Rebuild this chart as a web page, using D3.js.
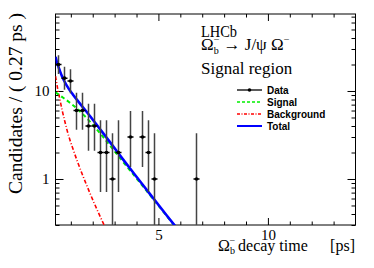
<!DOCTYPE html>
<html lang="en">
    <head>
        <meta charset="utf-8">
        <title>Omega_b decay time</title>
        <script src="https://d3js.org/d3.v7.min.js"></script>
        <style type="text/css">
            body{
                margin: 0;
                background: #fff;
            }
            svg{
                display: block;
            }
            text{
                font-family: "Liberation Serif", "Times New Roman", serif;
                fill: #000;
                white-space: pre;
            }
            .legend text{
                font-family: "Liberation Sans", Arial, sans-serif;
                font-weight: bold;
                font-size: 10px;
            }
        </style>
    </head>
    <body>
        <svg></svg>
        <script type="text/javascript">

        const w = 374;
        const h = 268;

        //DATA: bin centres [ps], counts and error bar ends
        const binWidth = 0.274;
        const binCentres = [0.437, 0.711, 0.985, 1.259, 1.533, 1.807, 2.081, 2.355, 2.629, 2.903, 3.177, 3.725, 4.273, 4.547, 4.821, 6.739];
        const counts     = [20, 14, 13, 6, 6, 4, 4, 2, 2, 1, 2, 3, 3, 2, 1, 1];
        const errLow     = [15.57, 10.31, 9.45, 3.62, 3.62, 2.09, 2.09, 0.71, 0.71, 0.17, 0.71, 1.37, 1.37, 0.71, 0.17, 0.17];
        const errHigh    = [25.54, 18.83, 17.69, 9.58, 9.58, 7.16, 7.16, 4.64, 4.64, 3.30, 4.64, 5.92, 5.92, 4.64, 3.30, 3.30];

        //FIT CURVES
        const curveT     = [0.3, 0.4, 0.5, 0.6, 0.7, 0.9, 1.1, 1.3, 1.5, 1.7, 1.9, 2.1, 2.3, 2.5, 2.7, 2.9, 3.4, 3.9, 4.4, 4.9, 5.4, 5.9];
        const signal     = [9.66, 9.28, 8.91, 8.56, 8.22, 7.55, 6.89, 6.24, 5.60, 5.00, 4.42, 3.88, 3.39, 2.95, 2.56, 2.22, 1.55, 1.09, 0.764, 0.535, 0.374, 0.262];
        const background = [14.8, 10.6, 8.04, 6.10, 4.79, 3.09, 2.19, 1.58, 1.17, 0.877, 0.665, 0.509, 0.394, 0.307, 0.240, 0.189];
        const total      = [24.5, 19.9, 16.95, 14.66, 13.0, 10.64, 9.08, 7.82, 6.77, 5.88, 5.09, 4.39, 3.78, 3.26, 2.80, 2.41, 1.65, 1.14, 0.79, 0.547, 0.38, 0.265];

        //TICKS
        const xMajor = [5, 10];
        const xMinor = [1, 2, 3, 4, 6, 7, 8, 9, 11, 12, 13];
        const yMajor = [1, 10];
        const yMinor = [0.3, 0.4, 0.5, 0.6, 0.7, 0.8, 0.9, 2, 3, 4, 5, 6, 7, 8, 9, 20, 30, 40, 50, 60, 70];

        const legendItems = ["Data", "Signal", "Background", "Total"];

        //FRAME
        const fLeft = 55.5, fRight = 355.5, fTop = 14, fBottom = 225;

        const x = d3.scaleLinear().domain([0.3, 14]).range([fLeft, fRight]);
        const y = d3.scaleLog().domain([0.3, 75]).range([fBottom, fTop]);

        const svg = d3.select("svg").attr("width", w).attr("height", h);

        svg.append("clipPath").attr("id", "frameClip")
           .append("rect")
           .attr("x", fLeft).attr("y", fTop)
           .attr("width", fRight - fLeft).attr("height", fBottom - fTop);

        //AXES (ticks on all four sides, pointing inwards)
        function drawAxis(axis, tx, ty, labels){
            const g = svg.append("g").attr("transform", `translate(${tx},${ty})`).call(axis);
            g.select(".domain").remove();
            g.selectAll("line").attr("stroke", "#000");
            if(!labels) g.selectAll("text").remove();
            return g;
        }

        const xb = drawAxis(d3.axisBottom(x).tickValues(xMajor).tickSize(-7).tickPadding(4).tickFormat(d3.format("d")), 0, fBottom, true);
        xb.selectAll("text").attr("font-size", 15).attr("font-family", "Liberation Serif");
        drawAxis(d3.axisBottom(x).tickValues(xMinor).tickSize(-3.5), 0, fBottom, false);
        drawAxis(d3.axisBottom(x).tickValues(xMajor).tickSize(7), 0, fTop, false);
        drawAxis(d3.axisBottom(x).tickValues(xMinor).tickSize(3.5), 0, fTop, false);

        const yl = drawAxis(d3.axisLeft(y).tickValues(yMajor).tickSize(-8).tickPadding(6).tickFormat(d3.format("d")), fLeft, 0, true);
        yl.selectAll("text").attr("font-size", 15).attr("font-family", "Liberation Serif");
        drawAxis(d3.axisLeft(y).tickValues(yMinor).tickSize(-4), fLeft, 0, false);
        drawAxis(d3.axisLeft(y).tickValues(yMajor).tickSize(8), fRight, 0, false);
        drawAxis(d3.axisLeft(y).tickValues(yMinor).tickSize(4), fRight, 0, false);

        svg.append("rect")
           .attr("x", fLeft).attr("y", fTop)
           .attr("width", fRight - fLeft).attr("height", fBottom - fTop)
           .attr("fill", "none").attr("stroke", "#000").attr("stroke-width", 1);

        //CURVES
        const plot = svg.append("g").attr("clip-path", "url(#frameClip)");
        const line = d3.line().x(d => x(d[0])).y(d => y(d[1])).curve(d3.curveMonotoneX);

        plot.append("path")
            .datum(background.map((v, i) => [curveT[i], v]))
            .attr("d", line).attr("fill", "none")
            .attr("stroke", "#ff0000").attr("stroke-width", 1.6)
            .attr("stroke-dasharray", "4,2,1,2");

        plot.append("path")
            .datum(signal.map((v, i) => [curveT[i], v]))
            .attr("d", line).attr("fill", "none")
            .attr("stroke", "#00ee00").attr("stroke-width", 2)
            .attr("stroke-dasharray", "4,3");

        plot.append("path")
            .datum(total.map((v, i) => [curveT[i], v]))
            .attr("d", line).attr("fill", "none")
            .attr("stroke", "#0000ff").attr("stroke-width", 2.6);

        //DATA POINTS
        const pts = plot.selectAll("g.pt")
            .data(counts.map((c, i) => ({t: binCentres[i], n: c, lo: errLow[i], hi: errHigh[i]})))
            .join("g").attr("class", "pt");

        pts.append("line")
           .attr("x1", d => x(d.t)).attr("x2", d => x(d.t))
           .attr("y1", d => y(Math.max(d.lo, 0.2))).attr("y2", d => y(d.hi))
           .attr("stroke", "#444").attr("stroke-width", 1.5);
        pts.append("line")
           .attr("x1", d => x(d.t - binWidth / 2)).attr("x2", d => x(d.t + binWidth / 2))
           .attr("y1", d => y(d.n)).attr("y2", d => y(d.n))
           .attr("stroke", "#000").attr("stroke-width", 1.5);
        pts.append("circle")
           .attr("cx", d => x(d.t)).attr("cy", d => y(d.n)).attr("r", 1.8)
           .attr("fill", "#000");

        //AXIS TITLES
        svg.append("text")
           .attr("transform", "translate(21.5,13) rotate(-90)")
           .attr("text-anchor", "end")
           .attr("font-size", 19.5)
           .text("Candidates / ( 0.27 ps )");

        const xt = svg.append("text")
           .attr("x", 218).attr("y", 250.5)
           .attr("font-size", 16);
        xt.append("tspan").text("Ω");
        xt.append("tspan").attr("font-size", 10).attr("dy", 3.5).text("b");
        xt.append("tspan").attr("font-size", 10).attr("dx", -5.5).attr("dy", -10.5).text("−");
        xt.append("tspan").attr("dx", 3).attr("dy", 7).text("decay time");
        svg.append("text")
           .attr("x", 355).attr("y", 250.5)
           .attr("text-anchor", "end")
           .attr("font-size", 16)
           .text("[ps]");

        //LHCb LABEL
        svg.append("text").attr("x", 201).attr("y", 36.5).attr("font-size", 16.5)
           .attr("textLength", 36).attr("lengthAdjust", "spacingAndGlyphs").text("LHCb");
        const dec = svg.append("text").attr("x", 201).attr("y", 50).attr("font-size", 17);
        dec.append("tspan").text("Ω");
        dec.append("tspan").attr("font-size", 10).attr("dy", 4).text("b");
        dec.append("tspan").attr("font-size", 10).attr("dx", -5).attr("dy", -11).text("−");
        dec.append("tspan").attr("dy", 7).text(" → J/ψ Ω");
        dec.append("tspan").attr("font-size", 10).attr("dy", -7).text("−");
        svg.append("text").attr("x", 201).attr("y", 73.5).attr("font-size", 17).text("Signal region");

        //LEGEND
        const legend = svg.append("g").attr("class", "legend");
        const rowY = d3.scalePoint().domain(legendItems).range([90, 126]);
        const styles = {
            "Data":       {stroke: "#000",    width: 1.3, dash: null},
            "Signal":     {stroke: "#00ee00", width: 1.6, dash: "3,2"},
            "Background": {stroke: "#ff0000", width: 1.3, dash: "3,1.5,1,1.5"},
            "Total":      {stroke: "#0000ff", width: 2,   dash: null}
        };
        legendItems.forEach(k => {
            const s = styles[k];
            legend.append("line")
                  .attr("x1", 237).attr("x2", 262)
                  .attr("y1", rowY(k)).attr("y2", rowY(k))
                  .attr("stroke", s.stroke).attr("stroke-width", s.width)
                  .attr("stroke-dasharray", s.dash);
            if(k === "Data"){
                legend.append("circle").attr("cx", 249.5).attr("cy", rowY(k)).attr("r", 1.8).attr("fill", "#000");
            }
            legend.append("text").attr("x", 267).attr("y", rowY(k)).attr("dy", "0.35em").text(k);
        });

        </script>
    </body>
</html>
